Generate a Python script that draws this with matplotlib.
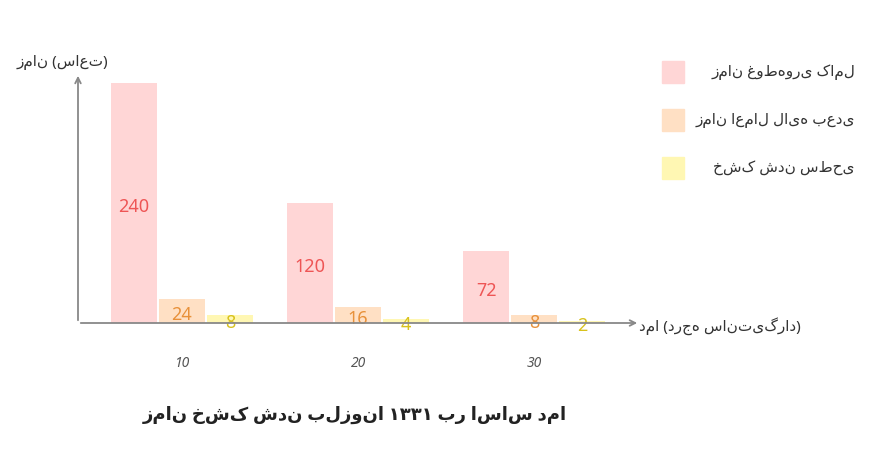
import matplotlib
matplotlib.use("Agg")
import matplotlib.pyplot as plt
import numpy as np

categories = ["10", "20", "30"]
series_names = ["زمان غوطه‌وری کامل", "زمان اعمال لایه بعدی", "خشک شدن سطحی"]
soak = [240, 120, 72]
layer = [24, 16, 8]
surface = [8, 4, 2]
series = [soak, layer, surface]
fills = ["#FFD6D6", "#FFE0C4", "#FFF7B3"]
txtc = ["#EE5555", "#E8913A", "#D8C21C"]

plt.rcParams['font.family'] = ['Noto Sans', 'DejaVu Sans']
fig = plt.figure(figsize=(8.78, 4.68), dpi=100)
ax = fig.add_axes([78/878, (468-323)/468, 562/878, 250/468])
x = np.arange(len(categories))
w = 46/176
for i, (vals, fc, tc) in enumerate(zip(series, fills, txtc)):
    pos = x + (i - 1) * w * 1.04
    ax.bar(pos, vals, width=w, color=fc, label=series_names[i])
    for p, v in zip(pos, vals):
        ax.text(p, v / 2 - 4, str(v), ha='center', va='center', color=tc, fontsize=13)
ax.set_xlim(-0.59, 2.60)
ax.set_ylim(0, 250)
for s in ax.spines.values():
    s.set_visible(False)
ax.set_yticks([])
ax.set_xticks(x)
ax.set_xticklabels(categories, fontstyle='italic', color='#555555', fontsize=10)
ax.tick_params(axis='x', length=0, pad=24)
ax.annotate('', xy=(1.0, 0), xycoords='axes fraction', xytext=(0, 0),
            arrowprops=dict(arrowstyle='->', color='#888888', lw=1.3))
ax.annotate('', xy=(0, 1.0), xycoords='axes fraction', xytext=(0, 0),
            arrowprops=dict(arrowstyle='->', color='#888888', lw=1.3))
fig.text(62/878, 1-62/468, "زمان (ساعت)", ha='center', va='center', fontsize=11, color='#333333')
fig.text(720/878, 1-326/468, "دما (درجه سانتی‌گراد)", ha='center', va='center', fontsize=11, color='#333333')
fig.text(355/878, 1-415/468, "زمان خشک شدن بلزونا ۱۳۳۱ بر اساس دما", ha='center', va='center',
         fontsize=13, fontweight='bold', color='#222222')
for i, (nm, fc) in enumerate(zip(series_names, fills)):
    yy = 1 - (72 + i * 48) / 468
    fig.patches.append(plt.Rectangle((662/878, yy - 11/468), 22/878, 22/468, color=fc,
                                     transform=fig.transFigure, figure=fig))
    fig.text(855/878, yy, nm, ha='right', va='center', fontsize=11, color='#333333')
fig.savefig("out.png", dpi=100)
